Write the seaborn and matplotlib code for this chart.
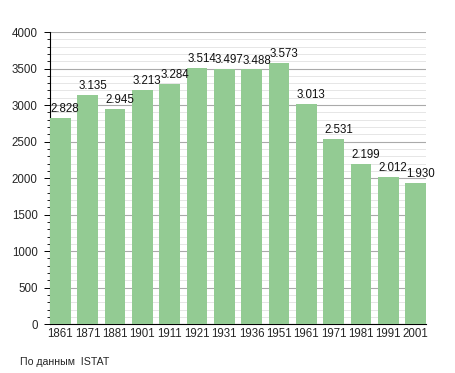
import matplotlib
matplotlib.use("Agg")
import matplotlib.pyplot as plt
import seaborn as sns
import pandas as pd
from matplotlib.ticker import MultipleLocator

# Population data (ISTAT)
years = ['1861', '1871', '1881', '1901', '1911', '1921', '1931',
         '1936', '1951', '1961', '1971', '1981', '1991', '2001']
population = [2828, 3135, 2945, 3213, 3284, 3514, 3497,
              3488, 3573, 3013, 2531, 2199, 2012, 1930]

df = pd.DataFrame({'Year': years, 'Population': population})

sns.set_style("white")
plt.rcParams['font.family'] = ['Liberation Sans', 'DejaVu Sans']

fig = plt.figure(figsize=(4.55, 3.73), dpi=100)
ax = fig.add_axes([0.110, 0.131, 0.826, 0.783])

sns.barplot(data=df, x='Year', y='Population', color='#93cb93',
            saturation=1, width=0.75, linewidth=0, ax=ax, zorder=3)

ax.set_xlim(-0.375, len(years) - 0.625)
ax.set_ylim(0, 4000)
ax.yaxis.set_major_locator(MultipleLocator(500))
ax.yaxis.set_minor_locator(MultipleLocator(100))
ax.grid(which='major', axis='y', color='#aaaaaa', linewidth=0.8, zorder=0)
ax.grid(which='minor', axis='y', color='#e2e2e2', linewidth=0.6, zorder=0)
ax.set_axisbelow(True)

for s in ['top', 'right']:
    ax.spines[s].set_visible(False)
ax.spines['left'].set_color('black')
ax.spines['bottom'].set_color('black')
ax.spines['left'].set_linewidth(0.8)
ax.spines['bottom'].set_linewidth(0.8)

ax.tick_params(axis='y', which='major', length=4, width=0.7, color='black',
               labelsize=8.3, left=True, pad=5)
ax.tick_params(axis='y', which='minor', length=2.5, width=0.6, color='black', left=True)
ax.tick_params(axis='x', length=0, labelsize=8.3, pad=3)
ax.set_xlabel('')
ax.set_ylabel('')

# value labels above the bars
for p, v in zip(ax.patches, population):
    ax.text(p.get_x() + 0.03, v + 40, f"{v:,}".replace(",", "."),
            ha='left', va='bottom', fontsize=8.3, color='#111111')

fig.text(20 / 455, 1 - 362 / 373, 'По данным  ISTAT', fontsize=7.6,
         ha='left', va='center')

fig.savefig('out.png', dpi=100)
